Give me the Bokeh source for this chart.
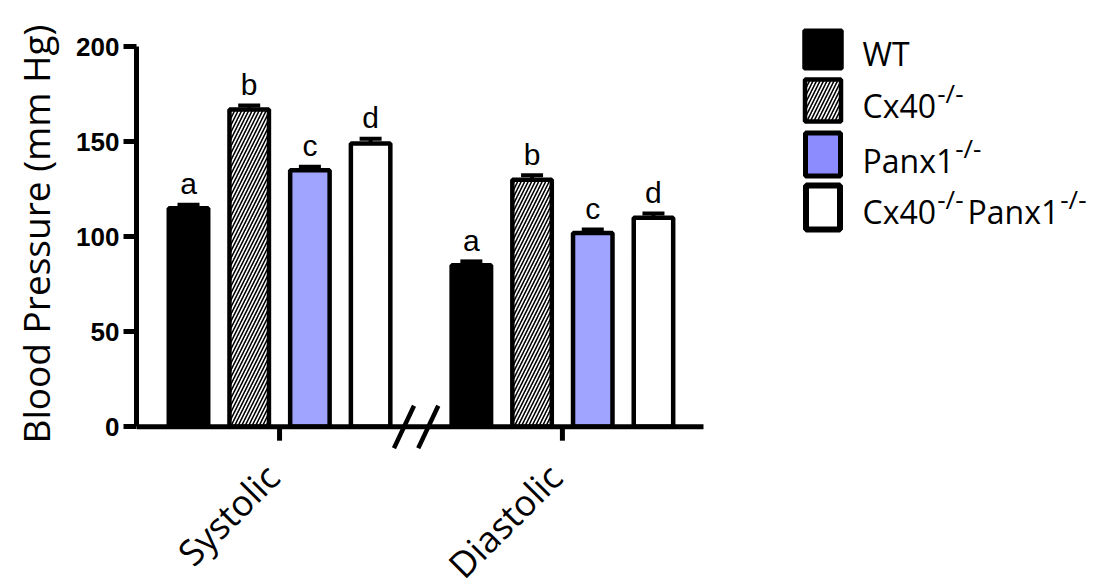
import math
from bokeh.plotting import figure
from bokeh.models import Range1d, FixedTicker, ColumnDataSource
from bokeh.layouts import column
from bokeh.embed import file_html
from bokeh.resources import INLINE
from bokeh.core.properties import value

# ---------------- data ----------------
groups = ["Systolic", "Diastolic"]
genotypes = ["WT", "Cx40-/-", "Panx1-/-", "Cx40-/-Panx1-/-"]
letters = ["a", "b", "c", "d"]
systolic = [115, 167, 135, 149]
systolic_err = [1.8, 2.0, 1.8, 2.5]
diastolic = [85, 130, 102, 110]
diastolic_err = [2.0, 2.3, 1.8, 2.2]
y_ticks = [0, 50, 100, 150, 200]

# ---------------- styles ----------------
bar_fill = ["black", "white", "#A0A4FF", "white"]
bar_hatch = [" ", "/", " ", " "]
legend_fill = ["black", "white", "#8C8CFF", "white"]
group_offsets = [0.0, 4.66]
bar_width = 0.65
PX_PER_X = 60.7      # screen pixels per bar slot
PX_PER_Y = 1.9       # screen pixels per mm Hg

SANS = "Open Sans"
ARIAL = "Liberation Sans"

W, H = 1113, 588
FRAME_L, FRAME_T, FRAME_B = 136, 18, 449

xs, tops, errs, fills, hatches, lets = [], [], [], [], [], []
for off, vals, ers in zip(group_offsets, [systolic, diastolic], [systolic_err, diastolic_err]):
    for i in range(len(genotypes)):
        xs.append(off + i)
        tops.append(vals[i])
        errs.append(ers[i])
        fills.append(bar_fill[i])
        hatches.append(bar_hatch[i])
        lets.append(letters[i])
uppers = [t + e for t, e in zip(tops, errs)]
letter_y = [u + 21 / PX_PER_Y for u in uppers]
src = ColumnDataSource(dict(x=xs, top=tops, upper=uppers, ly=letter_y,
                            fill=fills, hatch=hatches, letter=lets))

x_start = -52 / PX_PER_X
x_end = x_start + (W - FRAME_L) / PX_PER_X
axis_end = x_start + (703 - FRAME_L) / PX_PER_X
y_start = -12
y_end = y_start + (FRAME_B - FRAME_T) / PX_PER_Y

xr = Range1d(x_start, x_end)
p = figure(width=W, height=FRAME_B, x_range=xr, y_range=Range1d(y_start, y_end),
           output_backend="svg", toolbar_location=None, x_axis_location=None,
           min_border_left=FRAME_L, min_border_right=0,
           min_border_top=FRAME_T, min_border_bottom=0)
p.outline_line_color = None
p.grid.visible = False
# page-pixel ranges for the legend
p.extra_x_ranges = {"px": Range1d(FRAME_L, W)}
p.extra_y_ranges = {"py": Range1d(FRAME_B, FRAME_T)}

# bars
p.vbar(x="x", top="top", bottom=0, width=bar_width, source=src,
       fill_color="fill", line_color="black", line_width=4.5,
       hatch_pattern="hatch", hatch_color="black", hatch_scale=7, hatch_weight=1.6)

# error bars (upper only)
p.segment(x0="x", y0="top", x1="x", y1="upper", source=src, line_color="black", line_width=4)
cap_w = 22 / PX_PER_X
p.segment(x0=[x - cap_w / 2 for x in xs], y0=uppers, x1=[x + cap_w / 2 for x in xs], y1=uppers,
          line_color="black", line_width=4)

# significance letters
p.text(x="x", y="ly", text="letter", source=src, text_align="center",
       text_baseline="middle",
       text_font=value(ARIAL), text_font_size="30px", text_color="black")

# x axis baseline
p.segment(x0=[x_start], y0=[0], x1=[axis_end], y1=[0], line_color="black", line_width=5)

# group ticks on the baseline
centers = [off + (len(genotypes) - 1) / 2 for off in group_offsets]
p.segment(x0=centers, y0=[0] * len(centers), x1=centers, y1=[-14 / PX_PER_Y] * len(centers),
          line_color="black", line_width=5)

# axis break "//"
brk = (group_offsets[0] + len(genotypes) - 1 + group_offsets[1]) / 2 - 0.08
for dx in (-0.2, 0.2):
    p.segment(x0=[brk + dx - 0.165], y0=[-11.3], x1=[brk + dx + 0.165], y1=[11],
              line_color="black", line_width=4.5)

# y axis
p.yaxis.bounds = (0, 200)
p.yaxis.ticker = FixedTicker(ticks=y_ticks)
p.yaxis.axis_line_width = 5
p.yaxis.major_tick_line_width = 5
p.yaxis.major_tick_out = 13
p.yaxis.major_tick_in = 0
p.yaxis.minor_tick_line_color = None
p.yaxis.major_label_standoff = 4
p.yaxis.major_label_text_font = ARIAL
p.yaxis.major_label_text_font_style = "bold"
p.yaxis.major_label_text_font_size = "26px"
p.yaxis.major_label_text_color = "black"
p.yaxis.axis_label = "Blood Pressure (mm Hg)"
p.yaxis.axis_label_text_font = SANS
p.yaxis.axis_label_text_font_style = "normal"
p.yaxis.axis_label_text_font_size = "37px"
p.yaxis.axis_label_standoff = 12
p.yaxis.axis_label_text_color = "black"

# ---------------- legend (page pixel coordinates) ----------------
box_cy = [49, 100, 154, 207]
box_h = [38, 42, 43, 44]
box_w = [37.5, 36, 35, 34]
box_lw = [4, 4.5, 5, 6]
p.rect(x=[822.5] * 4, y=box_cy, width=box_w, height=box_h,
       x_range_name="px", y_range_name="py",
       fill_color=legend_fill, line_color="black", line_width=box_lw,
       hatch_pattern=bar_hatch, hatch_color="black", hatch_scale=7, hatch_weight=1.6)

em = {"C": .635, "x": .525, "4": .572, "0": .572, "1": .572, "P": .599, "a": .556,
      "n": .614, "W": .923, "T": .551, "-": .322, "/": .367}
base_size, sup_size = 32, 26
baselines = [65, 117, 172, 223]
for name, bl in zip(genotypes, baselines):
    parts = name.split("-/-")
    x = 862
    for k, part in enumerate(parts):
        if part:
            p.text(x=[x], y=[bl - 0.39 * base_size], text=[part], text_font=value(SANS),
                   x_range_name="px", y_range_name="py",
                   text_font_size=f"{base_size}px", text_baseline="middle",
                   text_align="left", text_color="black")
            x += sum(em.get(ch, .55) for ch in part) * base_size
        if k < len(parts) - 1:
            p.text(x=[x + 1], y=[bl - 14 - 0.39 * sup_size], text=["-/-"], text_font=value(SANS),
                   x_range_name="px", y_range_name="py",
                   text_font_size=f"{sup_size}px", text_baseline="middle",
                   text_align="left", text_color="black")
            x += sum(em[ch] for ch in "-/-") * sup_size + 5

# ---------------- category labels strip (shares the x scale) ----------------
q = figure(width=W, height=H - FRAME_B, x_range=xr, y_range=Range1d(H, FRAME_B),
           output_backend="svg", toolbar_location=None,
           x_axis_location=None, y_axis_location=None,
           min_border_left=FRAME_L, min_border_right=0, min_border_top=0, min_border_bottom=0)
q.outline_line_color = None
q.grid.visible = False
q.text(x=centers, y=[470] * len(centers), text=groups, angle=math.pi / 4,
       text_align="right", text_baseline="middle", x_offset=-7,
       text_font=value(SANS), text_font_size="36px", text_color="black")

open("out.html", "w").write(file_html(column(p, q), INLINE))
